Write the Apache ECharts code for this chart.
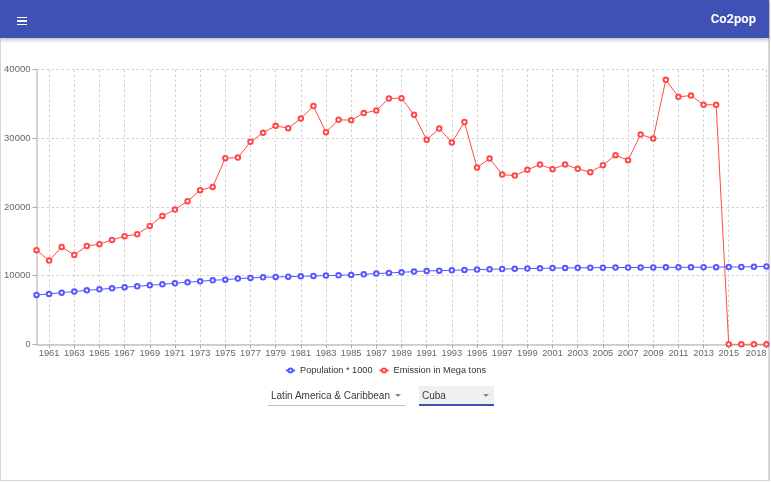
<!DOCTYPE html>
<html>
<head>
<meta charset="utf-8">
<script src="https://cdn.jsdelivr.net/npm/echarts@6/dist/echarts.min.js"></script>
<style>
  html, body { margin: 0; padding: 0; width: 771px; height: 482px; overflow: hidden; background: #fff; font-family: 'Liberation Sans', Arial, sans-serif; }
  #frame { position: absolute; left: 0; top: 0; width: 767px; height: 480px; border-left: 1px solid #d6d6d6; border-right: 2px solid #d6d6d6; border-bottom: 1px solid #d6d6d6; }
  #header { position: absolute; left: 0; top: 0; width: 769px; height: 38px; background: #3f51b5; box-shadow: 0 2px 4px rgba(0,0,0,0.25); z-index: 5; }
  .bar { position: absolute; left: 17px; width: 10px; height: 1.6px; background: #fff; }
  #title { position: absolute; right: 13px; top: 11px; color: #fff; font-family: Roboto, 'Liberation Sans', sans-serif; font-weight: bold; font-size: 13px; line-height: 16px; }
  #chart { position: absolute; left: 0; top: 0; width: 771px; height: 482px; }
  .sel { position: absolute; font-size: 10px; color: #3a3a3a; font-family: 'Liberation Sans', Arial, sans-serif; }
  .arrow { position: absolute; width: 0; height: 0; border-left: 3.5px solid transparent; border-right: 3.5px solid transparent; border-top: 3.5px solid #8a8a8a; }
</style>
</head>
<body>
<div id="frame"></div>
<div id="chart"></div>
<div id="header">
  <div class="bar" style="top:16.5px"></div>
  <div class="bar" style="top:20px"></div>
  <div class="bar" style="top:23.5px"></div>
  <div id="title">Co2pop</div>
</div>
<div class="sel" id="sel1" style="left:268px; top:386px; width:137px; height:19px; border-bottom:1px solid #bdbdbd;">
  <span style="position:absolute; left:3px; top:4px; white-space:nowrap;">Latin America &amp; Caribbean</span>
  <div class="arrow" style="left:127px; top:8px;"></div>
</div>
<div class="sel" id="sel2" style="left:419px; top:386px; width:75px; height:18px; background:#f0f0f0; border-bottom:2px solid #3f51b5;">
  <span style="position:absolute; left:3px; top:4px;">Cuba</span>
  <div class="arrow" style="left:64px; top:8px;"></div>
</div>
<script>
var years = [];
for (var y = 1960; y <= 2018; y++) years.push(String(y));

var population = [
  7180, 7330, 7520, 7670, 7860, 8000, 8150, 8300, 8440, 8590,
  8730, 8880, 9030, 9170, 9320, 9410, 9560, 9660, 9750, 9800,
  9850, 9900, 9950, 10000, 10050, 10100, 10190, 10290, 10390, 10480,
  10580, 10680, 10720, 10770, 10820, 10870, 10920, 10960, 10990, 11020,
  11060, 11090, 11110, 11130, 11150, 11160, 11170, 11180, 11190, 11190,
  11200, 11200, 11210, 11220, 11230, 11250, 11270, 11290, 11340
];

var emission = [
  13700, 12180, 14170, 13010, 14320, 14570, 15190, 15730, 16020, 17230,
  18690, 19610, 20830, 22430, 22910, 27090, 27180, 29470, 30780, 31800,
  31460, 32860, 34670, 30880, 32670, 32630, 33650, 34030, 35780, 35830,
  33400, 29760, 31400, 29370, 32340, 25720, 27040, 24700, 24560, 25390,
  26160, 25490, 26160, 25540, 25060, 26070, 27530, 26800, 30530, 29950,
  38500, 36020, 36210, 34860, 34860, 0, 0, 0, 0
];

var yTicks = [0, 10000, 20000, 30000, 40000];
var seriesNames = ['Population * 1000', 'Emission in Mega tons'];

var lastIdx = years.length - 1;
function showTick(idx) {
  if (idx === lastIdx) return true;
  return (idx % 2 === 1) && idx <= lastIdx - 3;
}

var chart = echarts.init(document.getElementById('chart'), null, { renderer: 'canvas' });
chart.setOption({
  animation: false,
  textStyle: { fontFamily: 'Liberation Sans, Arial, sans-serif' },
  grid: { left: 36.5, right: 4.5, top: 69.5, bottom: 137.7, containLabel: false, outerBoundsMode: 'none' },
  legend: {
    top: 361,
    left: 'center',
    itemWidth: 9,
    itemHeight: 5,
    itemGap: 6,
    textStyle: { fontSize: 9.2, color: '#333' },
    data: seriesNames
  },
  xAxis: {
    type: 'category',
    data: years,
    boundaryGap: false,
    axisLine: { lineStyle: { color: '#c4c4c4', width: 1.5 } },
    axisTick: { show: true, length: 4, interval: function (i) { return showTick(i); }, lineStyle: { color: '#aaa' } },
    axisLabel: {
      interval: function (i) { return showTick(i); },
      fontSize: 9.3,
      color: '#666',
      margin: 5,
      alignMaxLabel: 'right'
    },
    splitLine: { show: true, interval: function (i) { return showTick(i); }, lineStyle: { color: '#d0d0d0', type: [2.5, 2.5], width: 1 } }
  },
  yAxis: {
    type: 'value',
    min: yTicks[0],
    max: yTicks[yTicks.length - 1],
    interval: yTicks[1] - yTicks[0],
    axisLine: { show: true, lineStyle: { color: '#c4c4c4', width: 1.5 } },
    axisTick: { show: true, length: 4, lineStyle: { color: '#aaa' } },
    axisLabel: { fontSize: 9.5, color: '#666', margin: 6, formatter: function (v) { return String(v); } },
    splitLine: { show: true, lineStyle: { color: '#d0d0d0', type: [2.5, 2.5], width: 1 } }
  },
  series: [
    {
      name: seriesNames[0],
      type: 'line',
      data: population,
      symbol: 'emptyCircle',
      symbolSize: 4.5,
      showAllSymbol: true,
      itemStyle: { color: '#5858ff', borderWidth: 0.9 },
      lineStyle: { color: '#5858ff', width: 1 },
      emphasis: { disabled: true }
    },
    {
      name: seriesNames[1],
      type: 'line',
      data: emission,
      symbol: 'emptyCircle',
      symbolSize: 4.5,
      showAllSymbol: true,
      itemStyle: { color: '#ff4a4a', borderWidth: 0.9 },
      lineStyle: { color: '#ff4a4a', width: 1 },
      emphasis: { disabled: true }
    }
  ]
});
</script>
</body>
</html>
